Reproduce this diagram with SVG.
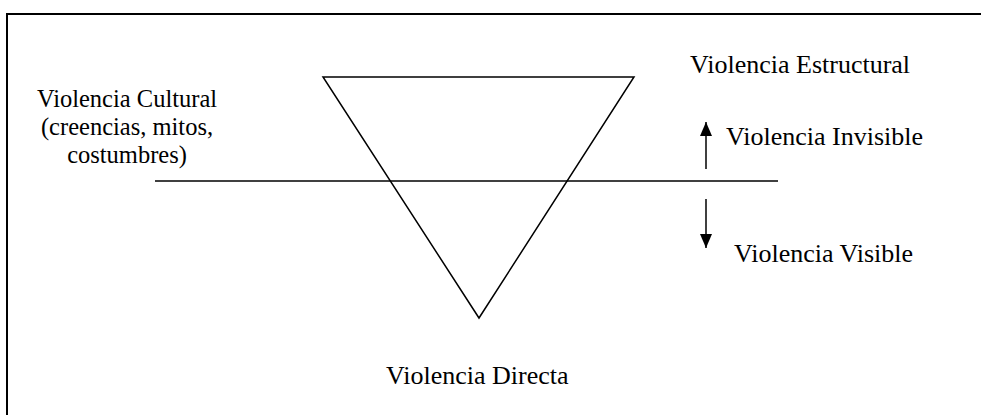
<svg xmlns="http://www.w3.org/2000/svg" width="981" height="415" viewBox="0 0 981 415">
<style>
.t{font-family:"Liberation Serif","Times New Roman",serif;font-size:26px;fill:#000}
.c{font-family:"Liberation Serif","Times New Roman",serif;font-size:24.5px;fill:#000;text-anchor:middle}
.ln{stroke:#000;stroke-width:1.5;fill:none}
</style>
<defs>
<marker id="ah" markerWidth="14" markerHeight="12" refX="14" refY="6" orient="auto" markerUnits="userSpaceOnUse" viewBox="0 0 14 12">
<path d="M0,0 L14,6 L0,12 z" fill="#000"/>
</marker>
</defs>
<rect x="0" y="0" width="981" height="415" fill="#fff"/>
<rect x="7" y="14" width="990" height="420" fill="none" stroke="#000" stroke-width="2"/>
<g id="triangle"><polygon class="ln" points="323,77 634,77 479,318"/></g>
<g id="cultural">
<text class="c" x="127" y="107">Violencia Cultural</text>
<text class="c" x="127" y="135">(creencias, mitos,</text>
<text class="c" x="127" y="163">costumbres)</text>
</g>
<g id="estructural"><text class="t" x="690" y="73">Violencia Estructural</text></g>
<g id="invisible"><text class="t" x="726" y="145">Violencia Invisible</text></g>
<g id="visible"><text class="t" x="734" y="262">Violencia Visible</text></g>
<g id="directa"><text class="t" x="386" y="384">Violencia Directa</text></g>
<g id="connectors">
<line class="ln" x1="155" y1="181" x2="778" y2="181"/>
<line class="ln" x1="706" y1="169" x2="706" y2="122" marker-end="url(#ah)"/>
<line class="ln" x1="706" y1="199" x2="706" y2="248" marker-end="url(#ah)"/>
</g>
</svg>
